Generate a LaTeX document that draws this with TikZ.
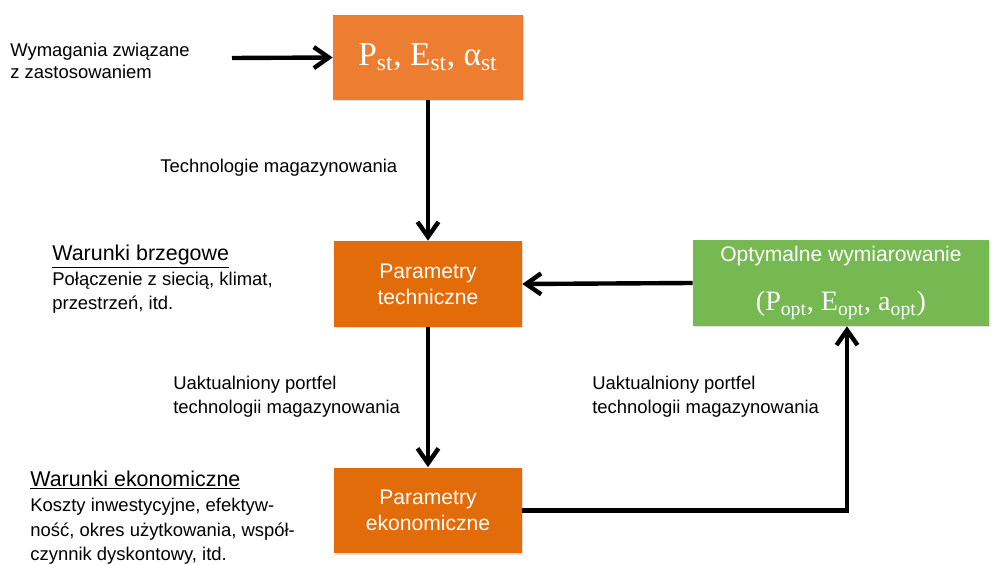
\documentclass[tikz,border=0pt]{standalone}
\usepackage{fontspec}
\setmainfont{Liberation Sans}
\newfontfamily\timesfont{Liberation Serif}
\usepackage{tikz}
\usetikzlibrary{arrows.meta, shadows, calc}
\definecolor{boxorange}{RGB}{227,108,10}
\definecolor{toporange}{RGB}{237,125,49}
\definecolor{optgreen}{RGB}{118,184,82}
\newcommand{\heading}[1]{{\fontsize{12.2pt}{14.2pt}\selectfont\underline{#1}}}

\begin{document}
\begin{tikzpicture}[
    x=0.02cm, y=-0.02cm,
    box/.style={rectangle, fill=boxorange, text=white, minimum width=3.76cm, minimum height=1.72cm, align=center, font=\fontsize{12pt}{14.7pt}\selectfont, drop shadow={opacity=0.25, shadow xshift=0.6pt, shadow yshift=-0.8pt}},
    topbox/.style={box, fill=toporange, minimum width=3.8cm, minimum height=1.7cm, font=\timesfont\fontsize{19pt}{22pt}\selectfont},
    optbox/.style={box, fill=optgreen, minimum width=5.92cm},
    arrow/.style={-{Straight Barb[length=0.3cm, width=0.42cm]}, line width=2.5pt},
    note/.style={font=\fontsize{10.5pt}{14.2pt}\selectfont, align=left, anchor=base west, inner sep=0pt}
]
\useasboundingbox (0,0) rectangle (992,564);

\node[topbox] (req) at (428,57.5) {P\textsubscript{st}, E\textsubscript{st}, α\textsubscript{st}};
\node[box] (tech) at (428,284) {Parametry\\techniczne};
\node[box] (econ) at (428,510.5) {Parametry\\ekonomiczne};
\node[optbox] (opt) at (841,283) {Optymalne wymiarowanie\\[13pt]{\timesfont\fontsize{16pt}{18pt}\selectfont (P\textsubscript{opt}, E\textsubscript{opt}, a\textsubscript{opt})}};

% multi-line notes sit on the baseline of their last line
\node[note, font=\fontsize{10.5pt}{13pt}\selectfont] (appl) at (10,79) {Wymagania związane\\z zastosowaniem};
\node[note] (techlbl) at (160,173) {Technologie magazynowania};
\node[note] (bound) at (52,310) {\heading{Warunki brzegowe}\\Połączenie z siecią, klimat,\\przestrzeń, itd.};
\node[note] (updl) at (173,414) {Uaktualniony portfel\\technologii magazynowania};
\node[note] (updr) at (592,414) {Uaktualniony portfel\\technologii magazynowania};
\node[note] (econlbl) at (30,561) {\heading{Warunki ekonomiczne}\\Koszty inwestycyjne, efektyw-\\ność, okres użytkowania, współ-\\czynnik dyskontowy, itd.};

\coordinate (in) at (232,58);
\draw[arrow] (in) -- (req.west);
\draw[arrow] (req) -- (tech);
\draw[arrow] (tech) -- (econ);
\draw[arrow] (opt.west) -- (tech.east);
\draw[arrow] (econ.east) -| ([xshift=0.12cm]opt.south);

\end{tikzpicture}
\end{document}
